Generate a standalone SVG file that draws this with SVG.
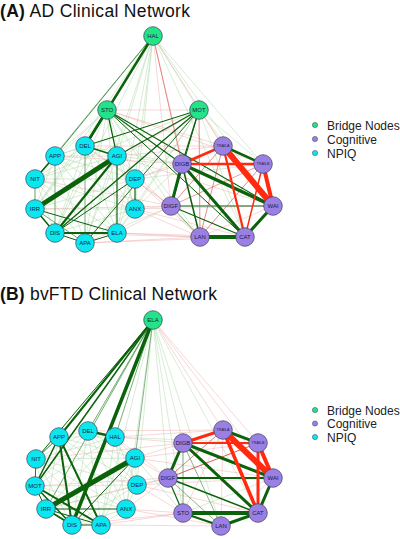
<svg xmlns="http://www.w3.org/2000/svg" width="400" height="539" viewBox="0 0 400 539">
<style>
.title{font-family:"Liberation Sans",Arial,sans-serif;font-size:17.5px;fill:#111}
.title .b{font-weight:bold}
.leg{font-family:"Liberation Sans",Arial,sans-serif;font-size:12px;fill:#222}
.edges line{stroke-linecap:round;fill:none}
.dg{stroke:#0a620a}
.mg{stroke:#4f9a4f}
.lg{stroke:#a8d4a0;stroke-opacity:.75;stroke-width:.6}
.lr{stroke:#eba0a0;stroke-opacity:.7;stroke-width:.6}
.mr{stroke:#e05a5a}
.rd{stroke:#ff2a10}
.node circle{stroke:#3c3c5a;stroke-width:.7}
.node text{font-family:"Liberation Sans",Arial,sans-serif;font-size:6px;fill:#1a1a44;text-anchor:middle}
.node text.s{font-size:3.7px}
.br circle{fill:#22e486}
.cg circle{fill:#9b80e4}
.np circle{fill:#0be7ef}
</style>

<text class="title" x="0" y="16.5" textLength="190" lengthAdjust="spacing"><tspan class="b">(A)</tspan> AD Clinical Network</text>
<text class="title" x="0" y="299.5" textLength="217" lengthAdjust="spacing"><tspan class="b">(B)</tspan> bvFTD Clinical Network</text>

<!-- Connectors A -->
<g id="edges-a" class="edges">
<line class="lg" x1="153" y1="36" x2="117" y2="156"/>
<line class="lg" x1="153" y1="36" x2="35" y2="209"/>
<line class="lg" x1="153" y1="36" x2="117" y2="233"/>
<line class="lg" x1="153" y1="36" x2="85" y2="243"/>
<line class="lg" x1="153" y1="36" x2="135" y2="179"/>
<line class="lg" x1="153" y1="36" x2="135" y2="209"/>
<line class="lg" x1="153" y1="36" x2="55" y2="233"/>
<line class="lg" x1="153" y1="36" x2="263" y2="164"/>
<line class="lg" x1="153" y1="36" x2="273" y2="206"/>
<line class="lg" x1="153" y1="36" x2="245" y2="237"/>
<line class="lg" x1="153" y1="36" x2="199" y2="110"/>
<line class="lr" x1="153" y1="36" x2="223" y2="146"/>
<line class="lr" x1="153" y1="36" x2="171" y2="206"/>
<line class="lr" x1="153" y1="36" x2="200" y2="237"/>
<line class="mr" stroke-width=".7" x1="153" y1="36" x2="182" y2="164"/>
<line class="mg" stroke-width=".9" x1="153" y1="36" x2="107" y2="110"/>
<line class="mg" stroke-width="1" x1="153" y1="36" x2="55" y2="156"/>
<line class="mg" stroke-width=".6" x1="153" y1="36" x2="35" y2="179"/>
<line class="lg" x1="107" y1="110" x2="55" y2="156"/>
<line class="lg" x1="107" y1="110" x2="35" y2="179"/>
<line class="lg" x1="107" y1="110" x2="35" y2="209"/>
<line class="lg" x1="107" y1="110" x2="135" y2="179"/>
<line class="lg" x1="107" y1="110" x2="135" y2="209"/>
<line class="lg" x1="107" y1="110" x2="117" y2="233"/>
<line class="lg" x1="107" y1="110" x2="85" y2="243"/>
<line class="lg" x1="107" y1="110" x2="55" y2="233"/>
<line class="lg" x1="107" y1="110" x2="171" y2="206"/>
<line class="lg" x1="107" y1="110" x2="200" y2="237"/>
<line class="lr" x1="107" y1="110" x2="199" y2="110"/>
<line class="lr" x1="107" y1="110" x2="223" y2="146"/>
<line class="lr" x1="107" y1="110" x2="263" y2="164"/>
<line class="lg" x1="199" y1="110" x2="55" y2="156"/>
<line class="lg" x1="199" y1="110" x2="35" y2="179"/>
<line class="lg" x1="199" y1="110" x2="135" y2="179"/>
<line class="lg" x1="199" y1="110" x2="135" y2="209"/>
<line class="lg" x1="199" y1="110" x2="117" y2="233"/>
<line class="lg" x1="199" y1="110" x2="273" y2="206"/>
<line class="lg" x1="199" y1="110" x2="245" y2="237"/>
<line class="lg" x1="199" y1="110" x2="263" y2="164"/>
<line class="lr" x1="199" y1="110" x2="223" y2="146"/>
<line class="lr" x1="199" y1="110" x2="35" y2="209"/>
<line class="mr" stroke-width=".7" x1="199" y1="110" x2="200" y2="237"/>
<line class="lg" x1="55" y1="156" x2="85" y2="146"/>
<line class="lg" x1="55" y1="156" x2="117" y2="156"/>
<line class="lg" x1="55" y1="156" x2="135" y2="179"/>
<line class="lg" x1="55" y1="156" x2="135" y2="209"/>
<line class="lg" x1="55" y1="156" x2="35" y2="209"/>
<line class="lg" x1="55" y1="156" x2="117" y2="233"/>
<line class="lg" x1="55" y1="156" x2="85" y2="243"/>
<line class="lg" x1="85" y1="146" x2="35" y2="179"/>
<line class="lg" x1="85" y1="146" x2="135" y2="179"/>
<line class="lg" x1="85" y1="146" x2="135" y2="209"/>
<line class="lg" x1="85" y1="146" x2="35" y2="209"/>
<line class="lg" x1="85" y1="146" x2="55" y2="233"/>
<line class="lg" x1="85" y1="146" x2="117" y2="233"/>
<line class="lg" x1="35" y1="179" x2="117" y2="156"/>
<line class="lg" x1="35" y1="179" x2="135" y2="179"/>
<line class="lg" x1="35" y1="179" x2="135" y2="209"/>
<line class="lg" x1="35" y1="179" x2="55" y2="233"/>
<line class="lg" x1="35" y1="179" x2="117" y2="233"/>
<line class="lg" x1="35" y1="179" x2="85" y2="243"/>
<line class="lg" x1="117" y1="156" x2="135" y2="179"/>
<line class="lg" x1="117" y1="156" x2="135" y2="209"/>
<line class="lg" x1="117" y1="156" x2="85" y2="243"/>
<line class="lg" x1="135" y1="179" x2="35" y2="209"/>
<line class="lg" x1="135" y1="179" x2="117" y2="233"/>
<line class="lg" x1="135" y1="179" x2="85" y2="243"/>
<line class="lg" x1="35" y1="209" x2="135" y2="209"/>
<line class="lg" x1="135" y1="209" x2="55" y2="233"/>
<line class="lg" x1="135" y1="209" x2="117" y2="233"/>
<line class="lg" x1="135" y1="209" x2="85" y2="243"/>
<line class="lr" x1="135" y1="179" x2="182" y2="164"/>
<line class="lr" x1="135" y1="179" x2="171" y2="206"/>
<line class="lr" x1="135" y1="179" x2="200" y2="237"/>
<line class="lr" x1="135" y1="179" x2="223" y2="146"/>
<line class="lr" x1="135" y1="209" x2="171" y2="206"/>
<line class="lr" x1="135" y1="209" x2="200" y2="237"/>
<line class="lr" x1="135" y1="209" x2="245" y2="237"/>
<line class="lr" x1="135" y1="209" x2="273" y2="206"/>
<line class="lr" x1="117" y1="233" x2="200" y2="237"/>
<line class="lr" x1="117" y1="233" x2="171" y2="206"/>
<line class="lr" x1="117" y1="233" x2="245" y2="237"/>
<line class="lr" x1="85" y1="243" x2="200" y2="237"/>
<line class="lr" x1="85" y1="243" x2="245" y2="237"/>
<line class="lr" x1="55" y1="233" x2="200" y2="237"/>
<line class="lr" x1="35" y1="209" x2="171" y2="206"/>
<line class="lr" x1="117" y1="156" x2="223" y2="146"/>
<line class="lr" x1="85" y1="146" x2="223" y2="146"/>
<line class="lr" x1="117" y1="156" x2="200" y2="237"/>
<line class="lr" x1="85" y1="146" x2="171" y2="206"/>
<line class="lr" x1="35" y1="179" x2="171" y2="206"/>
<line class="lr" x1="55" y1="156" x2="182" y2="164"/>
<line class="lr" x1="117" y1="156" x2="273" y2="206"/>
<line class="lg" x1="117" y1="156" x2="182" y2="164"/>
<line class="lg" x1="135" y1="179" x2="263" y2="164"/>
<line class="lg" x1="85" y1="146" x2="182" y2="164"/>
<line class="lg" x1="135" y1="209" x2="182" y2="164"/>
<line class="lg" x1="85" y1="243" x2="171" y2="206"/>
<line class="mg" stroke-width=".8" x1="55" y1="156" x2="55" y2="233"/>
<line class="mg" stroke-width=".8" x1="85" y1="146" x2="85" y2="243"/>
<line class="mg" stroke-width=".8" x1="35" y1="209" x2="85" y2="243"/>
<line class="mg" stroke-width=".9" x1="35" y1="179" x2="35" y2="209"/>
<line class="mr" stroke-width=".7" x1="223" y1="146" x2="171" y2="206"/>
<line class="mr" stroke-width=".7" x1="223" y1="146" x2="200" y2="237"/>
<line class="mr" stroke-width=".7" x1="263" y1="164" x2="200" y2="237"/>
<line class="mr" stroke-width=".6" x1="263" y1="164" x2="171" y2="206"/>
<line class="lr" x1="273" y1="206" x2="200" y2="237"/>
<line class="mg" stroke-width=".8" x1="171" y1="206" x2="200" y2="237"/>
<line class="dg" stroke-width="2.4" x1="153" y1="36" x2="85" y2="146"/>
<line class="dg" stroke-width="2.4" x1="107" y1="110" x2="85" y2="146"/>
<line class="dg" stroke-width="1.2" x1="107" y1="110" x2="117" y2="156"/>
<line class="dg" stroke-width="1.1" x1="107" y1="110" x2="182" y2="164"/>
<line class="dg" stroke-width="1.1" x1="107" y1="110" x2="273" y2="206"/>
<line class="dg" stroke-width="1" x1="107" y1="110" x2="245" y2="237"/>
<line class="dg" stroke-width="1" x1="199" y1="110" x2="85" y2="146"/>
<line class="dg" stroke-width="1.2" x1="199" y1="110" x2="117" y2="156"/>
<line class="dg" stroke-width="1.3" x1="199" y1="110" x2="55" y2="233"/>
<line class="dg" stroke-width=".9" x1="199" y1="110" x2="85" y2="243"/>
<line class="dg" stroke-width="1.2" x1="199" y1="110" x2="182" y2="164"/>
<line class="dg" stroke-width="1" x1="199" y1="110" x2="171" y2="206"/>
<line class="dg" stroke-width="5" x1="117" y1="156" x2="35" y2="209"/>
<line class="dg" stroke-width="2.2" x1="117" y1="156" x2="55" y2="233"/>
<line class="dg" stroke-width="1.5" x1="117" y1="156" x2="85" y2="146"/>
<line class="dg" stroke-width="1.2" x1="117" y1="156" x2="117" y2="233"/>
<line class="dg" stroke-width="2.2" x1="55" y1="233" x2="117" y2="233"/>
<line class="dg" stroke-width="1" x1="55" y1="233" x2="85" y2="243"/>
<line class="dg" stroke-width="1" x1="85" y1="243" x2="117" y2="233"/>
<line class="dg" stroke-width="1.5" x1="35" y1="209" x2="55" y2="233"/>
<line class="dg" stroke-width="1.5" x1="55" y1="156" x2="35" y2="179"/>
<line class="dg" stroke-width="1" x1="35" y1="209" x2="117" y2="233"/>
<line class="dg" stroke-width="1.2" x1="135" y1="179" x2="135" y2="209"/>
<line class="dg" stroke-width="1" x1="135" y1="179" x2="55" y2="233"/>
<line class="mg" stroke-width="1.5" style="stroke:#5f8f5f" x1="171" y1="206" x2="273" y2="206"/>
<line class="dg" stroke-width="1.2" x1="171" y1="206" x2="245" y2="237"/>
<line class="dg" stroke-width="1.5" x1="182" y1="164" x2="200" y2="237"/>
<line class="dg" stroke-width="3" x1="182" y1="164" x2="171" y2="206"/>
<line class="dg" stroke-width="3" x1="182" y1="164" x2="245" y2="237"/>
<line class="dg" stroke-width="3.5" x1="182" y1="164" x2="273" y2="206"/>
<line class="dg" stroke-width="4" x1="200" y1="237" x2="245" y2="237"/>
<line class="dg" stroke-width="3" x1="273" y1="206" x2="245" y2="237"/>
<line class="dg" stroke-width="2.5" x1="223" y1="146" x2="263" y2="164"/>
<line class="rd" stroke-width="2.5" x1="223" y1="146" x2="182" y2="164"/>
<line class="rd" stroke-width="2.5" x1="182" y1="164" x2="263" y2="164"/>
<line class="rd" stroke-width="2.2" x1="223" y1="146" x2="245" y2="237"/>
<line class="rd" stroke-width="1.5" x1="263" y1="164" x2="245" y2="237"/>
<line class="rd" stroke-width="4" x1="263" y1="164" x2="273" y2="206"/>
<line class="rd" stroke-width="6" x1="223" y1="146" x2="273" y2="206"/>
</g>

<!-- Connectors B -->
<g id="edges-b" class="edges">
<line class="lg" x1="153" y1="320" x2="101" y2="525"/>
<line class="lg" x1="153" y1="320" x2="126" y2="509"/>
<line class="lg" x1="153" y1="320" x2="137" y2="485"/>
<line class="lg" x1="153" y1="320" x2="183" y2="443"/>
<line class="lg" x1="153" y1="320" x2="168" y2="478"/>
<line class="lg" x1="153" y1="320" x2="183" y2="513"/>
<line class="lg" x1="153" y1="320" x2="221" y2="526"/>
<line class="lg" x1="153" y1="320" x2="258" y2="513"/>
<line class="lr" x1="153" y1="320" x2="223" y2="430"/>
<line class="lr" x1="153" y1="320" x2="258" y2="443"/>
<line class="lr" x1="153" y1="320" x2="273" y2="478"/>
<line class="lg" x1="59" y1="437" x2="88" y2="431"/>
<line class="lg" x1="59" y1="437" x2="115" y2="437"/>
<line class="lg" x1="59" y1="437" x2="135" y2="458"/>
<line class="lg" x1="59" y1="437" x2="137" y2="485"/>
<line class="lg" x1="59" y1="437" x2="126" y2="509"/>
<line class="lg" x1="59" y1="437" x2="46" y2="509"/>
<line class="lg" x1="88" y1="431" x2="36" y2="459"/>
<line class="lg" x1="88" y1="431" x2="135" y2="458"/>
<line class="lg" x1="88" y1="431" x2="137" y2="485"/>
<line class="lg" x1="88" y1="431" x2="126" y2="509"/>
<line class="lg" x1="88" y1="431" x2="35" y2="486"/>
<line class="lg" x1="88" y1="431" x2="72" y2="525"/>
<line class="lg" x1="88" y1="431" x2="101" y2="525"/>
<line class="lg" x1="115" y1="437" x2="36" y2="459"/>
<line class="lg" x1="115" y1="437" x2="135" y2="458"/>
<line class="lg" x1="115" y1="437" x2="35" y2="486"/>
<line class="lg" x1="115" y1="437" x2="137" y2="485"/>
<line class="lg" x1="115" y1="437" x2="126" y2="509"/>
<line class="lg" x1="115" y1="437" x2="46" y2="509"/>
<line class="lg" x1="115" y1="437" x2="101" y2="525"/>
<line class="lg" x1="36" y1="459" x2="135" y2="458"/>
<line class="lg" x1="36" y1="459" x2="137" y2="485"/>
<line class="lg" x1="36" y1="459" x2="126" y2="509"/>
<line class="lg" x1="36" y1="459" x2="72" y2="525"/>
<line class="lg" x1="36" y1="459" x2="101" y2="525"/>
<line class="lg" x1="36" y1="459" x2="46" y2="509"/>
<line class="lg" x1="135" y1="458" x2="137" y2="485"/>
<line class="lg" x1="135" y1="458" x2="126" y2="509"/>
<line class="lg" x1="135" y1="458" x2="101" y2="525"/>
<line class="lg" x1="35" y1="486" x2="137" y2="485"/>
<line class="lg" x1="35" y1="486" x2="126" y2="509"/>
<line class="lg" x1="137" y1="485" x2="46" y2="509"/>
<line class="lg" x1="137" y1="485" x2="72" y2="525"/>
<line class="lg" x1="137" y1="485" x2="126" y2="509"/>
<line class="lg" x1="126" y1="509" x2="72" y2="525"/>
<line class="lg" x1="126" y1="509" x2="101" y2="525"/>
<line class="lr" x1="115" y1="437" x2="183" y2="443"/>
<line class="lr" x1="115" y1="437" x2="223" y2="430"/>
<line class="lr" x1="88" y1="431" x2="223" y2="430"/>
<line class="lr" x1="135" y1="458" x2="183" y2="443"/>
<line class="lr" x1="135" y1="458" x2="168" y2="478"/>
<line class="lr" x1="135" y1="458" x2="258" y2="443"/>
<line class="lr" x1="137" y1="485" x2="168" y2="478"/>
<line class="lr" x1="137" y1="485" x2="183" y2="513"/>
<line class="lr" x1="137" y1="485" x2="273" y2="478"/>
<line class="lr" x1="126" y1="509" x2="183" y2="513"/>
<line class="lr" x1="126" y1="509" x2="168" y2="478"/>
<line class="lr" x1="126" y1="509" x2="221" y2="526"/>
<line class="lr" x1="101" y1="525" x2="183" y2="513"/>
<line class="lr" x1="101" y1="525" x2="221" y2="526"/>
<line class="lr" x1="72" y1="525" x2="183" y2="513"/>
<line class="lr" x1="46" y1="509" x2="168" y2="478"/>
<line class="lr" x1="35" y1="486" x2="168" y2="478"/>
<line class="lr" x1="36" y1="459" x2="183" y2="443"/>
<line class="lr" x1="115" y1="437" x2="168" y2="478"/>
<line class="lr" x1="135" y1="458" x2="273" y2="478"/>
<line class="lr" x1="137" y1="485" x2="258" y2="513"/>
<line class="lg" x1="135" y1="458" x2="183" y2="513"/>
<line class="lg" x1="115" y1="437" x2="258" y2="443"/>
<line class="lr" x1="273" y1="478" x2="221" y2="526"/>
<line class="lr" x1="223" y1="430" x2="183" y2="513"/>
<line class="lr" x1="223" y1="430" x2="221" y2="526"/>
<line class="lg" x1="183" y1="513" x2="273" y2="478"/>
<line class="mr" stroke-width=".8" x1="223" y1="430" x2="168" y2="478"/>
<line class="mr" stroke-width="1" x1="258" y1="443" x2="168" y2="478"/>
<line class="mg" stroke-width=".8" x1="183" y1="443" x2="183" y2="513"/>
<line class="mg" stroke-width=".7" x1="183" y1="443" x2="221" y2="526"/>
<line class="mg" stroke-width=".7" x1="168" y1="478" x2="221" y2="526"/>
<line class="mg" stroke-width=".8" x1="153" y1="320" x2="46" y2="509"/>
<line class="mg" stroke-width=".8" x1="153" y1="320" x2="88" y2="431"/>
<line class="mg" stroke-width=".8" x1="153" y1="320" x2="115" y2="437"/>
<line class="mg" stroke-width=".7" x1="153" y1="320" x2="135" y2="458"/>
<line class="dg" stroke-width="2" x1="153" y1="320" x2="59" y2="437"/>
<line class="dg" stroke-width="1.5" x1="153" y1="320" x2="35" y2="486"/>
<line class="dg" stroke-width="1" x1="153" y1="320" x2="36" y2="459"/>
<line class="dg" stroke-width="3.5" x1="153" y1="320" x2="72" y2="525"/>
<line class="dg" stroke-width="5" x1="135" y1="458" x2="46" y2="509"/>
<line class="dg" stroke-width="2.5" x1="88" y1="431" x2="115" y2="437"/>
<line class="dg" stroke-width="2" x1="59" y1="437" x2="72" y2="525"/>
<line class="dg" stroke-width="2" x1="59" y1="437" x2="101" y2="525"/>
<line class="dg" stroke-width="2" x1="35" y1="486" x2="101" y2="525"/>
<line class="dg" stroke-width="1.5" x1="35" y1="486" x2="72" y2="525"/>
<line class="dg" stroke-width="2" x1="46" y1="509" x2="72" y2="525"/>
<line class="dg" stroke-width="1.2" x1="72" y1="525" x2="101" y2="525"/>
<line class="dg" stroke-width="1" x1="46" y1="509" x2="101" y2="525"/>
<line class="dg" stroke-width="1.5" x1="59" y1="437" x2="35" y2="486"/>
<line class="dg" stroke-width="1" x1="135" y1="458" x2="72" y2="525"/>
<line class="dg" stroke-width="1" x1="126" y1="509" x2="46" y2="509"/>
<line class="dg" stroke-width=".9" x1="59" y1="437" x2="36" y2="459"/>
<line class="dg" stroke-width=".9" x1="36" y1="459" x2="35" y2="486"/>
<line class="dg" stroke-width="1" x1="35" y1="486" x2="46" y2="509"/>
<line class="dg" stroke-width="1.2" x1="168" y1="478" x2="183" y2="513"/>
<line class="dg" stroke-width="1.5" x1="168" y1="478" x2="258" y2="513"/>
<line class="dg" stroke-width="2" x1="168" y1="478" x2="273" y2="478"/>
<line class="dg" stroke-width="3" x1="183" y1="443" x2="168" y2="478"/>
<line class="dg" stroke-width="3" x1="183" y1="443" x2="258" y2="513"/>
<line class="dg" stroke-width="3" x1="183" y1="443" x2="273" y2="478"/>
<line class="dg" stroke-width="4" x1="183" y1="513" x2="258" y2="513"/>
<line class="dg" stroke-width="2" x1="183" y1="513" x2="221" y2="526"/>
<line class="dg" stroke-width="3" x1="221" y1="526" x2="258" y2="513"/>
<line class="dg" stroke-width="3" x1="273" y1="478" x2="258" y2="513"/>
<line class="dg" stroke-width="3" x1="223" y1="430" x2="258" y2="443"/>
<line class="rd" stroke-width="3" x1="223" y1="430" x2="183" y2="443"/>
<line class="rd" stroke-width="2" x1="183" y1="443" x2="258" y2="443"/>
<line class="rd" stroke-width="3.5" x1="223" y1="430" x2="258" y2="513"/>
<line class="rd" stroke-width="3" x1="258" y1="443" x2="258" y2="513"/>
<line class="rd" stroke-width="4" x1="258" y1="443" x2="273" y2="478"/>
<line class="rd" stroke-width="6" x1="223" y1="430" x2="273" y2="478"/>
</g>

<!-- Nodes A -->
<g id="a-HAL" class="node br"><circle cx="153" cy="36" r="9.3"/><text x="153" y="38.1">HAL</text></g>
<g id="a-STO" class="node br"><circle cx="107" cy="110" r="9.3"/><text x="107" y="112.1">STO</text></g>
<g id="a-MOT" class="node br"><circle cx="199" cy="110" r="9.3"/><text x="199" y="112.1">MOT</text></g>
<g id="a-DEL" class="node np"><circle cx="85" cy="146" r="9.3"/><text x="85" y="148.1">DEL</text></g>
<g id="a-APP" class="node np"><circle cx="55" cy="156" r="9.3"/><text x="55" y="158.1">APP</text></g>
<g id="a-AGI" class="node np"><circle cx="117" cy="156" r="9.3"/><text x="117" y="158.1">AGI</text></g>
<g id="a-NIT" class="node np"><circle cx="35" cy="179" r="9.3"/><text x="35" y="181.1">NIT</text></g>
<g id="a-DEP" class="node np"><circle cx="135" cy="179" r="9.3"/><text x="135" y="181.1">DEP</text></g>
<g id="a-IRR" class="node np"><circle cx="35" cy="209" r="9.3"/><text x="35" y="211.1">IRR</text></g>
<g id="a-ANX" class="node np"><circle cx="135" cy="209" r="9.3"/><text x="135" y="211.1">ANX</text></g>
<g id="a-DIS" class="node np"><circle cx="55" cy="233" r="9.3"/><text x="55" y="235.1">DIS</text></g>
<g id="a-ELA" class="node np"><circle cx="117" cy="233" r="9.3"/><text x="117" y="235.1">ELA</text></g>
<g id="a-APA" class="node np"><circle cx="85" cy="243" r="9.3"/><text x="85" y="245.1">APA</text></g>
<g id="a-TRAILA" class="node cg"><circle cx="223" cy="146" r="9.3"/><text class="s" x="223" y="147.3">TRAILA</text></g>
<g id="a-DIGB" class="node cg"><circle cx="182" cy="164" r="9.3"/><text x="182" y="166.1">DIGB</text></g>
<g id="a-TRAILB" class="node cg"><circle cx="263" cy="164" r="9.3"/><text class="s" x="263" y="165.3">TRAILB</text></g>
<g id="a-DIGF" class="node cg"><circle cx="171" cy="206" r="9.3"/><text x="171" y="208.1">DIGF</text></g>
<g id="a-WAI" class="node cg"><circle cx="273" cy="206" r="9.3"/><text x="273" y="208.1">WAI</text></g>
<g id="a-LAN" class="node cg"><circle cx="200" cy="237" r="9.3"/><text x="200" y="239.1">LAN</text></g>
<g id="a-CAT" class="node cg"><circle cx="245" cy="237" r="9.3"/><text x="245" y="239.1">CAT</text></g>

<!-- Nodes B -->
<g id="b-ELA" class="node br"><circle cx="153" cy="320" r="9.3"/><text x="153" y="322.1">ELA</text></g>
<g id="b-APP" class="node np"><circle cx="59" cy="437" r="9.3"/><text x="59" y="439.1">APP</text></g>
<g id="b-DEL" class="node np"><circle cx="88" cy="431" r="9.3"/><text x="88" y="433.1">DEL</text></g>
<g id="b-HAL" class="node np"><circle cx="115" cy="437" r="9.3"/><text x="115" y="439.1">HAL</text></g>
<g id="b-NIT" class="node np"><circle cx="36" cy="459" r="9.3"/><text x="36" y="461.1">NIT</text></g>
<g id="b-AGI" class="node np"><circle cx="135" cy="458" r="9.3"/><text x="135" y="460.1">AGI</text></g>
<g id="b-MOT" class="node np"><circle cx="35" cy="486" r="9.3"/><text x="35" y="488.1">MOT</text></g>
<g id="b-DEP" class="node np"><circle cx="137" cy="485" r="9.3"/><text x="137" y="487.1">DEP</text></g>
<g id="b-IRR" class="node np"><circle cx="46" cy="509" r="9.3"/><text x="46" y="511.1">IRR</text></g>
<g id="b-ANX" class="node np"><circle cx="126" cy="509" r="9.3"/><text x="126" y="511.1">ANX</text></g>
<g id="b-DIS" class="node np"><circle cx="72" cy="525" r="9.3"/><text x="72" y="527.1">DIS</text></g>
<g id="b-APA" class="node np"><circle cx="101" cy="525" r="9.3"/><text x="101" y="527.1">APA</text></g>
<g id="b-TRAILA" class="node cg"><circle cx="223" cy="430" r="9.3"/><text class="s" x="223" y="431.3">TRAILA</text></g>
<g id="b-DIGB" class="node cg"><circle cx="183" cy="443" r="9.3"/><text x="183" y="445.1">DIGB</text></g>
<g id="b-TRAILB" class="node cg"><circle cx="258" cy="443" r="9.3"/><text class="s" x="258" y="444.3">TRAILB</text></g>
<g id="b-DIGF" class="node cg"><circle cx="168" cy="478" r="9.3"/><text x="168" y="480.1">DIGF</text></g>
<g id="b-WAI" class="node cg"><circle cx="273" cy="478" r="9.3"/><text x="273" y="480.1">WAI</text></g>
<g id="b-STO" class="node cg"><circle cx="183" cy="513" r="9.3"/><text x="183" y="515.1">STO</text></g>
<g id="b-CAT" class="node cg"><circle cx="258" cy="513" r="9.3"/><text x="258" y="515.1">CAT</text></g>
<g id="b-LAN" class="node cg"><circle cx="221" cy="526" r="9.3"/><text x="221" y="528.1">LAN</text></g>

<!-- Legends -->
<g id="legend-a">
<circle cx="315" cy="125" r="2.6" fill="#22e486" stroke="#3c3c5a" stroke-width=".5"/>
<text class="leg" x="327" y="129.5">Bridge Nodes</text>
<circle cx="315" cy="139" r="2.6" fill="#9b80e4" stroke="#3c3c5a" stroke-width=".5"/>
<text class="leg" x="327" y="143.5">Cognitive</text>
<circle cx="315" cy="153" r="2.6" fill="#0be7ef" stroke="#3c3c5a" stroke-width=".5"/>
<text class="leg" x="327" y="157.5">NPIQ</text>
</g>
<g id="legend-b">
<circle cx="315" cy="410" r="2.6" fill="#22e486" stroke="#3c3c5a" stroke-width=".5"/>
<text class="leg" x="327" y="414.5">Bridge Nodes</text>
<circle cx="315" cy="423.5" r="2.6" fill="#9b80e4" stroke="#3c3c5a" stroke-width=".5"/>
<text class="leg" x="327" y="428">Cognitive</text>
<circle cx="315" cy="437" r="2.6" fill="#0be7ef" stroke="#3c3c5a" stroke-width=".5"/>
<text class="leg" x="327" y="441.5">NPIQ</text>
</g>
</svg>
